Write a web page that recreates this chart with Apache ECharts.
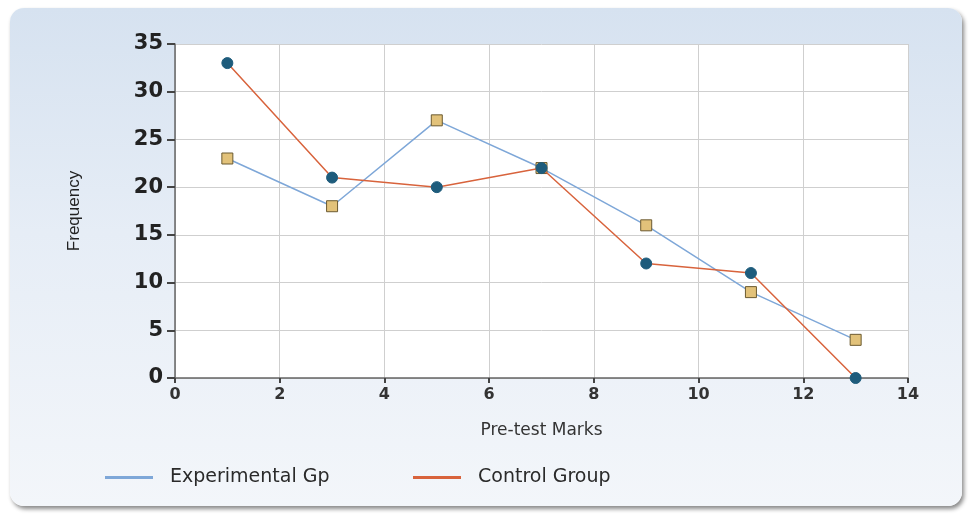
<!DOCTYPE html>
<html>
<head>
<meta charset="utf-8">
<script src="https://cdn.jsdelivr.net/npm/echarts@6/dist/echarts.min.js"></script>
<style>
html, body { margin: 0; padding: 0; background: #fff; }
#panel {
	position: absolute; left: 10px; top: 8px; width: 952px; height: 498px;
	border-radius: 14px;
	background: linear-gradient(180deg, #d6e2f0 0%, #e6edf6 45%, #f3f6fa 100%);
	box-shadow: 2px 3px 4px #8a8a8a;
}
#chart { position: absolute; left: 0; top: 0; width: 976px; height: 518px; }
</style>
</head>
<body>
<div id="panel"></div>
<div id="chart"></div>
<script>
var marks = [1, 3, 5, 7, 9, 11, 13];
var expGp = [23, 18, 27, 22, 16, 9, 4];
var controlGp = [33, 21, 20, 22, 12, 11, 0];

var expColor = '#7ea7d8';
var ctrlColor = '#d8633c';

function pairs(xs, ys) {
	var out = [];
	for (var i = 0; i < xs.length; i++) {
		out.push([xs[i], ys[i]]);
	}
	return out;
}

function legendAt(left, name, color) {
	return {
		left : left,
		top : 463,
		icon : 'rect',
		itemWidth : 48,
		itemHeight : 3,
		textStyle : {
			fontFamily : 'DejaVu Sans',
			fontSize : 19,
			color : '#2a2a2a',
			padding : [ 0, 0, 0, 12 ]
		},
		data : [ { name : name, itemStyle : { color : color, borderWidth : 0 } } ]
	};
}

var chart = echarts.init(document.getElementById("chart"));
var option = {
	animation : false,
	grid : {
		left : 175,
		right : 68,
		top : 44,
		bottom : 140,
		show : true,
		backgroundColor : '#ffffff',
		borderWidth : 0
	},
	legend : [ legendAt(100, 'Experimental Gp', expColor), legendAt(408, 'Control Group', ctrlColor) ],
	xAxis : {
		type : 'value',
		min : 0,
		max : 14,
		interval : 2,
		name : 'Pre-test Marks',
		nameLocation : 'middle',
		nameGap : 44,
		nameTextStyle : {
			fontFamily : 'DejaVu Sans',
			fontSize : 17,
			color : '#333'
		},
		axisLine : { lineStyle : { color : '#666', width : 1.5 } },
		axisTick : { show : true, length : 5, lineStyle : { color : '#444', width : 2 } },
		axisLabel : {
			fontFamily : 'DejaVu Sans',
			fontWeight : 'bold',
			fontSize : 16,
			color : '#333',
			margin : 9
		},
		splitLine : { lineStyle : { color : '#cfcfcf' } }
	},
	yAxis : {
		type : 'value',
		min : 0,
		max : 35,
		interval : 5,
		name : 'Frequency',
		nameLocation : 'middle',
		nameGap : 92,
		nameTextStyle : {
			fontFamily : 'Liberation Sans Narrow, Liberation Sans',
			fontSize : 17,
			color : '#222'
		},
		axisLine : { show : true, lineStyle : { color : '#666', width : 1.5 } },
		axisTick : { show : true, length : 8, lineStyle : { color : '#444', width : 2 } },
		axisLabel : {
			fontFamily : 'DejaVu Sans',
			fontWeight : 'bold',
			fontSize : 21,
			color : '#222',
			margin : 12
		},
		splitLine : { lineStyle : { color : '#cfcfcf' } }
	},
	series : [ {
		name : 'Experimental Gp',
		type : 'line',
		data : pairs(marks, expGp),
		lineStyle : { width : 1.5, color : expColor },
		symbol : 'rect',
		symbolSize : 11,
		itemStyle : { color : '#e2c27a', borderColor : '#6b5a30', borderWidth : 1 },
		z : 2
	}, {
		name : 'Control Group',
		type : 'line',
		data : pairs(marks, controlGp),
		lineStyle : { width : 1.5, color : ctrlColor },
		symbol : 'circle',
		symbolSize : 11,
		itemStyle : { color : '#1e5c7c', borderColor : '#1e5c7c' },
		z : 3
	} ]
};
chart.setOption(option);
window.onresize = chart.resize;
</script>
</body>
</html>
